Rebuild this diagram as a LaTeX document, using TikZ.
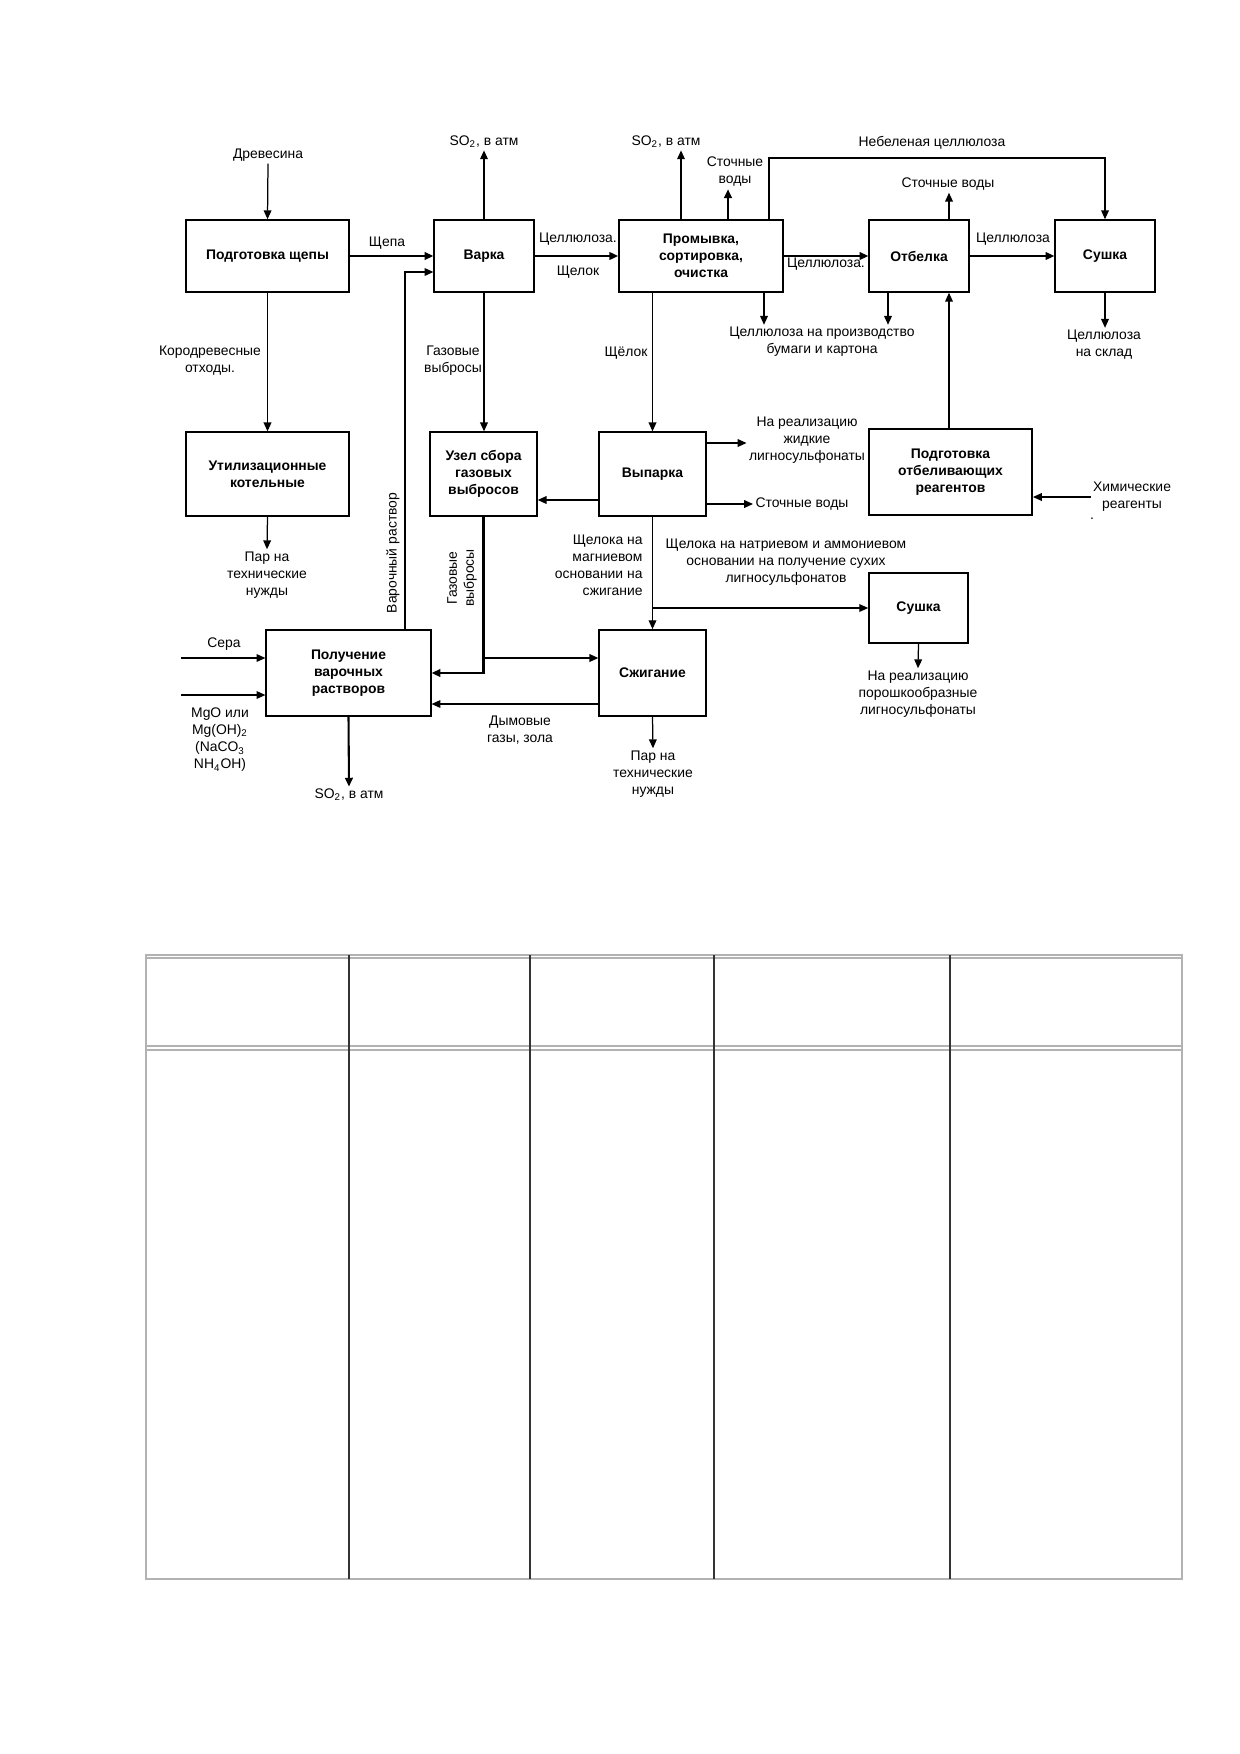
\documentclass[tikz,border=0pt]{standalone}
\usepackage{fontspec}
\setmainfont{Liberation Sans}
\usetikzlibrary{arrows.meta, positioning, calc}

\begin{document}
\begin{tikzpicture}[x=0.16935mm, y=-0.16935mm,
      font=\fontsize{6.7}{8.2}\selectfont,
      blk/.style={draw, line width=0.7pt, align=center, inner sep=1pt,
                  font=\fontsize{6.7}{8.2}\selectfont\bfseries},
      lbl/.style={align=center, inner sep=1pt},
      arr/.style={-{Triangle[length=1.5mm, width=1.3mm]}, line width=0.6pt},
      arrb/.style={arr, line width=1pt}]
      \useasboundingbox (0,0) rectangle (1240,1754);
      % Blocks, top row
      \node[blk, minimum width=27.6mm, minimum height=12.2mm] (prep)
        at (267.5,256) {Подготовка щепы};
      \node[blk, minimum width=16.9mm, minimum height=12.2mm] (cook)
        at (484,256) {Варка};
      \node[blk, minimum width=27.8mm, minimum height=12.2mm] (wash)
        at (701,256) {Промывка,\\сортировка,\\очистка};
      \node[blk, minimum width=16.9mm, minimum height=12.2mm] (bleach)
        at (919,256) {Отбелка};
      \node[blk, minimum width=16.9mm, minimum height=12.2mm] (dry)
        at (1105,256) {Сушка};
      % Blocks, middle row
      \node[blk, minimum width=27.6mm, minimum height=14.2mm] (util)
        at (267.5,474) {Утилизационные\\котельные};
      \node[blk, minimum width=18.1mm, minimum height=14.2mm] (gasu)
        at (483.5,474) {Узел сбора\\газовых\\выбросов};
      \node[blk, minimum width=18.1mm, minimum height=14.2mm] (evap)
        at (652.5,474) {Выпарка};
      \node[blk, line width=0.9pt, minimum width=27.6mm, minimum height=14.6mm] (bprep)
        at (950.5,472) {Подготовка\\отбеливающих\\реагентов};
      \node[blk, minimum width=16.8mm, minimum height=11.9mm] (dryb)
        at (918.5,608) {Сушка};
      % Blocks, bottom row
      \node[blk, minimum width=27.9mm, minimum height=14.6mm] (sol)
        at (348.5,673) {Получение\\варочных\\растворов};
      \node[blk, minimum width=18.1mm, minimum height=14.6mm] (burn)
        at (652.5,673) {Сжигание};

      % Wood preparation and cooking
      \node[lbl] (wood) at (268,155) {Древесина};
      \draw[arr] (wood.south) -- (prep.north);
      \node[lbl] (chips) at (387,243) {Щепа};
      \draw[arrb] (prep.east) -- (cook.west);
      \node[lbl] (bark) at (210,361) {Кородревесные\\отходы.};
      \draw[arr] (prep.south) -- (util.north);
      \node[lbl] (steam1) at (267,575) {Пар на\\технические\\нужды};
      \draw[arr] (util.south) -- (steam1.north);
      \node[lbl] (so2c) at (484,142) {SO\textsubscript{2}, в атм};
      \draw[arr] (cook.north) -- (so2c.south);
      \node[lbl] (gas1) at (453,361) {Газовые\\выбросы};
      \draw[arr] (cook.south) -- (cook.south |- gasu.north);
      \draw[arr] (405,0 |- sol.north) |- (cook.west |- 0,272);
      \node[lbl, rotate=90] (solt) at (393,553) {Варочный раствор};

      % Washing
      \node[lbl] (cell1) at (578,239) {Целлюлоза.};
      \node[lbl] (liq1) at (578,272) {Щелок};
      \draw[arrb] (cook.east) -- (wash.west);
      \node[lbl] (so2w) at (666,142) {SO\textsubscript{2}, в атм};
      \draw[arr] (681,0 |- wash.north) -- (681,0 |- so2w.south);
      \node[lbl] (ww1) at (735,172) {Сточные\\воды};
      \draw[arrb] (728,0 |- wash.north) -- (728,0 |- ww1.south);
      \coordinate (ubk) at (769,158);
      \node[lbl] (unbl) at (932,143) {Небеленая целлюлоза};
      \draw[arr] (ubk |- wash.north) -- (ubk) -| (dry.north);
      \node[lbl] (paper) at (822,342) {Целлюлоза на производство\\бумаги и картона};
      \draw[arr] (764,0 |- wash.south) -- (764,0 |- paper.north);
      \node[lbl] (liq2) at (626,353) {Щёлок};
      \draw[arr] (evap.north |- wash.south) -- (evap.north);

      % Bleaching and drying
      \node[lbl] (cell2) at (826,264) {Целлюлоза.};
      \draw[arrb] (wash.east) -- (bleach.west);
      \node[lbl] (ww2) at (948,184) {Сточные воды};
      \draw[arr] (949,0 |- bleach.north) -- (949,0 |- ww2.south);
      \draw[arr] (888,0 |- bleach.south) -- (888,0 |- paper.north);
      \draw[arr] (949,0 |- bprep.north) -- (949,0 |- bleach.south);
      \node[lbl] (cell3) at (1013,239) {Целлюлоза};
      \draw[arrb] (bleach.east) -- (dry.west);
      \node[lbl] (store) at (1104,345) {Целлюлоза\\на склад};
      \draw[arr] (dry.south) -- (dry.south |- store.north);
      \node[lbl] (chem) at (1132,497) {Химические\\реагенты};
      \draw[arr] (chem.west) -- (bprep.east |- chem.west);
      \node[lbl] (dot) at (1092,519) {.};

      % Evaporation
      \draw[arr] (evap.west |- 0,500) -- (gasu.east |- 0,500);
      \node[lbl] (liqsale) at (807,440) {На реализацию\\жидкие\\лигносульфонаты};
      \draw[arr] (evap.east |- 0,443) -- (liqsale.west |- 0,443);
      \node[lbl] (ww3) at (802,504) {Сточные воды};
      \draw[arr] (evap.east |- ww3.west) -- (ww3.west);
      \node[lbl, anchor=east, align=right] (mg) at (645,565)
        {Щелока на\\магниевом\\основании на\\сжигание};
      \draw[arr] (evap.south) -- (burn.north);
      \node[lbl] (na) at (786,562)
        {Щелока на натриевом и аммониевом\\основании на получение сухих\\лигносульфонатов};
      \draw[arr] (evap.south |- dryb.west) -- (dryb.west);
      \node[lbl] (powder) at (918,694) {На реализацию\\порошкообразные\\лигносульфонаты};
      \draw[arr] (dryb.south) -- (powder.north);

      % Cooking liquor and burning
      \node[lbl, rotate=90] (gas2) at (462,578) {Газовые\\выбросы};
      \draw[arrb] (gasu.south) |- (sol.east);
      \draw[arr] (gasu.south |- 0,658) -- (burn.west |- 0,658);
      \draw[arr] (burn.west |- 0,704) -- (sol.east |- 0,704);
      \node[lbl] (smoke) at (520,730) {Дымовые\\газы, зола};
      \node[lbl] (sulfur) at (224,644) {Сера};
      \coordinate (sin) at (181,658);
      \draw[arr] (sin) -- (sol.west |- sin);
      \coordinate (mgin) at (181,695);
      \draw[arr] (mgin) -- (sol.west |- mgin);
      \node[lbl] (mgo) at (220,740)
        {MgO или\\Mg(OH)\textsubscript{2}\\(NaCO\textsubscript{3}\\NH\textsubscript{4}OH)};
      \node[lbl] (so2s) at (349,795) {SO\textsubscript{2}, в атм};
      \draw[arrb] (sol.south) -- (so2s.north);
      \node[lbl] (steam2) at (653,774) {Пар на\\технические\\нужды};
      \draw[arr] (burn.south) -- (steam2.north);

      % Table
      \draw[gray!60, line width=1pt] (146,955) rectangle (1182,1579);
      \draw[gray!60, line width=0.5pt] (146,958) -- (1182,958);
      \draw[gray!60, line width=0.6pt] (146,1046) -- (1182,1046)
        (146,1050) -- (1182,1050);
      \foreach \cx in {349,530,714,950}
        \draw[black!80, line width=0.5pt] (\cx,955) -- (\cx,1579);
    \end{tikzpicture}
\end{document}
